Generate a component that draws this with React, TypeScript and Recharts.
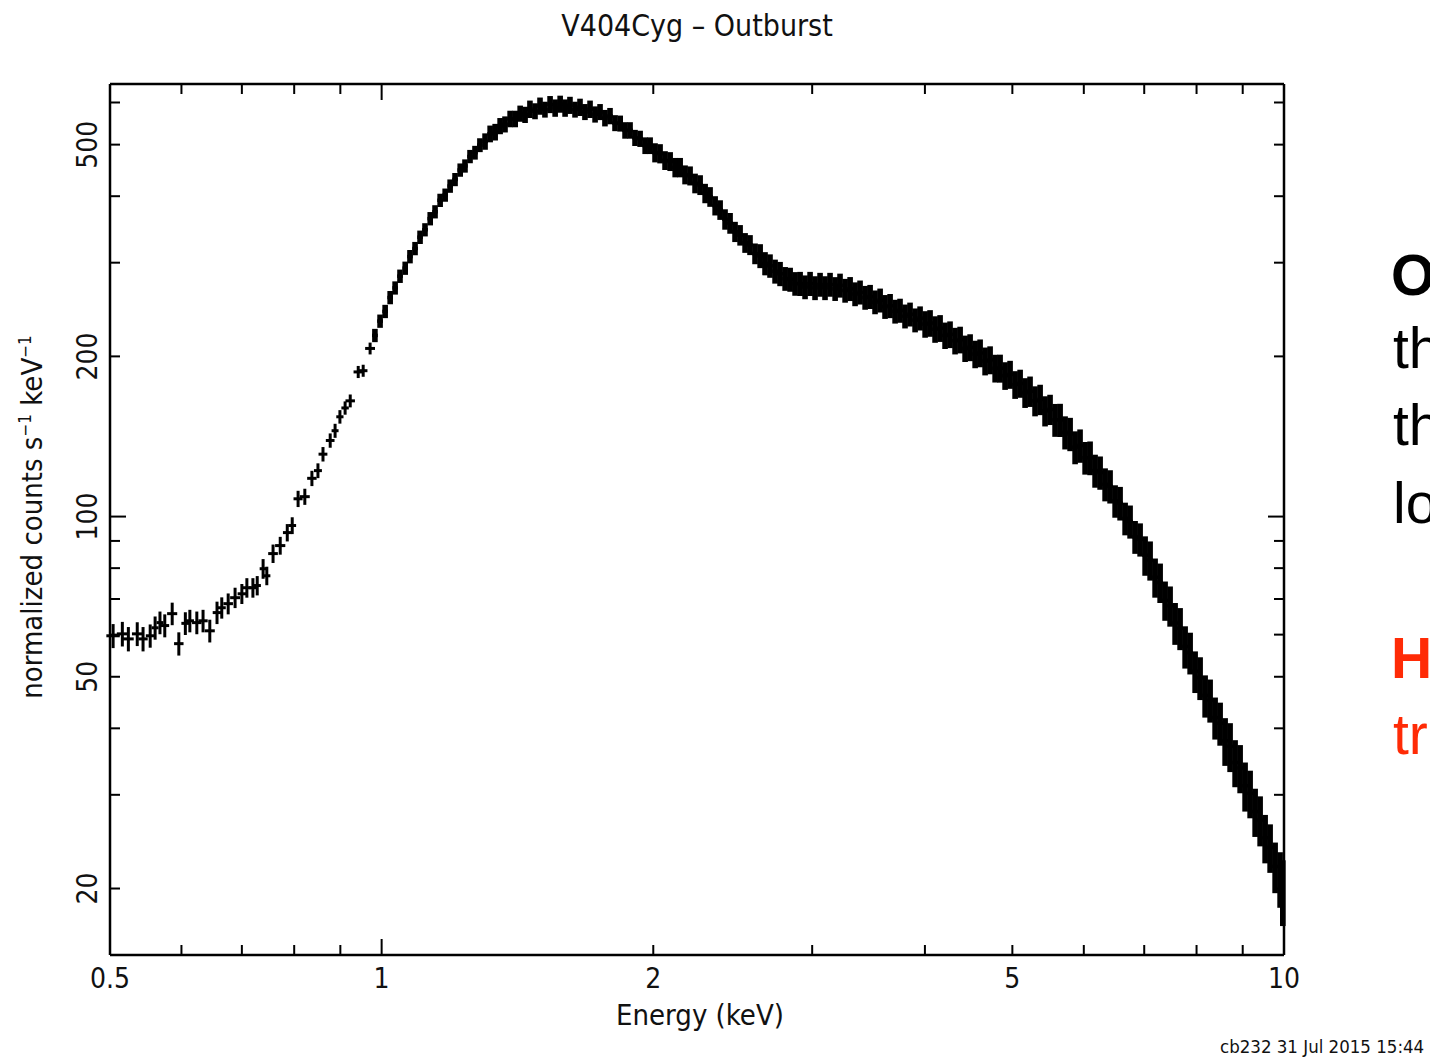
import React from 'react';
import { ScatterChart, Scatter, XAxis, YAxis, ErrorBar } from 'recharts';

// ---- data (energy in keV, normalized counts s^-1 keV^-1) ----
const lowEnergies = [
  0.504, 0.516, 0.524, 0.536, 0.544, 0.554, 0.561, 0.568, 0.575, 0.586,
  0.596, 0.606, 0.613, 0.624, 0.634, 0.645, 0.657, 0.665, 0.676, 0.688,
  0.700, 0.709, 0.720, 0.728, 0.739, 0.746, 0.758, 0.772, 0.786, 0.796,
  0.808, 0.822, 0.837, 0.850, 0.861, 0.877, 0.888, 0.899, 0.911, 0.923,
  0.942, 0.954, 0.971,
];
const lowCounts = [
  59.7, 60.2, 58.9, 60.2, 58.9, 59.7, 61.8, 63.2, 62.4, 65.7,
  57.7, 63.0, 63.7, 63.2, 63.7, 61.0, 66.0, 67.4, 68.6, 70.4,
  71.6, 73.5, 73.5, 74.2, 79.8, 77.4, 85.2, 88.2, 93.3, 96.2,
  108, 109, 118, 122, 131, 139, 145, 154, 160, 165,
  187, 188, 207,
];
const lowErrors = [
  3.1, 3.2, 3.1, 3.1, 3.1, 3.0, 3.1, 3.1, 3.1, 3.2,
  2.9, 3.1, 3.1, 3.1, 3.1, 3.0, 3.2, 3.1, 3.1, 3.1,
  3.1, 3.1, 3.1, 3.1, 3.4, 3.1, 3.4, 3.4, 3.5, 3.5,
  3.8, 3.8, 3.9, 3.9, 4.1, 4.3, 4.4, 4.5, 4.6, 4.6,
  4.9, 4.9, 5.3,
];

const bandEnergies = [
  0.983, 0.996, 1.009, 1.022, 1.035, 1.048, 1.062, 1.075, 1.089, 1.103,
  1.117, 1.132, 1.146, 1.161, 1.176, 1.191, 1.206, 1.222, 1.237, 1.253,
  1.269, 1.285, 1.302, 1.319, 1.336, 1.353, 1.370, 1.388, 1.406, 1.424,
  1.442, 1.460, 1.479, 1.498, 1.517, 1.537, 1.557, 1.577, 1.597, 1.617,
  1.638, 1.659, 1.680, 1.702, 1.724, 1.746, 1.768, 1.791, 1.814, 1.838,
  1.861, 1.885, 1.909, 1.934, 1.959, 1.984, 2.009, 2.035, 2.061, 2.088,
  2.115, 2.142, 2.169, 2.197, 2.225, 2.254, 2.283, 2.312, 2.342, 2.372,
  2.402, 2.433, 2.464, 2.496, 2.528, 2.560, 2.593, 2.627, 2.660, 2.694,
  2.729, 2.764, 2.800, 2.836, 2.872, 2.909, 2.946, 2.984, 3.022, 3.061,
  3.100, 3.140, 3.181, 3.221, 3.263, 3.305, 3.347, 3.390, 3.434, 3.478,
  3.522, 3.568, 3.613, 3.660, 3.707, 3.754, 3.802, 3.851, 3.901, 3.951,
  4.002, 4.053, 4.105, 4.158, 4.211, 4.265, 4.320, 4.376, 4.432, 4.489,
  4.547, 4.605, 4.664, 4.724, 4.785, 4.846, 4.908, 4.971, 5.035, 5.100,
  5.165, 5.231, 5.298, 5.367, 5.435, 5.505, 5.576, 5.648, 5.720, 5.794,
  5.868, 5.943, 6.020, 6.097, 6.175, 6.255, 6.335, 6.416, 6.499, 6.582,
  6.667, 6.752, 6.839, 6.927, 7.016, 7.106, 7.197, 7.290, 7.383, 7.478,
  7.574, 7.671, 7.770, 7.870, 7.971, 8.073, 8.177, 8.282, 8.388, 8.496,
  8.605, 8.715, 8.827, 8.941, 9.055, 9.172, 9.290, 9.409, 9.530, 9.652,
  9.776, 9.901, 9.970,
];
const bandCounts = [
  219, 233, 243, 258, 269, 283, 293, 308, 319, 335,
  346, 363, 374, 393, 402, 418, 430, 448, 456, 475,
  483, 499, 507, 524, 528, 542, 546, 559, 559, 572,
  569, 583, 578, 591, 582, 595, 586, 596, 586, 593,
  582, 588, 576, 583, 570, 576, 561, 566, 549, 548,
  532, 532, 515, 513, 498, 498, 483, 481, 467, 465,
  453, 453, 439, 437, 423, 420, 405, 399, 384, 377,
  362, 356, 343, 338, 327, 324, 312, 309, 299, 296,
  289, 286, 280, 279, 274, 274, 270, 274, 269, 273,
  269, 273, 268, 272, 266, 268, 262, 264, 258, 259,
  253, 255, 248, 249, 243, 244, 238, 240, 234, 236,
  230, 231, 225, 226, 219, 220, 214, 215, 207, 208,
  202, 203, 196, 197, 190, 190, 184, 185, 177, 178,
  171, 172, 165, 166, 158, 159, 152, 152, 144, 143,
  135, 136, 129, 129, 122, 121, 115, 114, 107, 106,
  99.2, 97.9, 91.6, 90.6, 84.6, 82.8, 76.9, 75.2, 69.6, 68.0,
  63.1, 61.7, 57.0, 55.5, 51.2, 49.8, 46.1, 45.2, 41.9, 40.9,
  37.9, 37.0, 34.5, 33.7, 31.2, 30.2, 27.9, 26.9, 24.9, 23.9,
  22.0, 20.9, 19.8,
];
const bandErrors = [
  6.3, 6.7, 7.0, 7.4, 7.7, 8.2, 8.4, 8.9, 9.2, 9.7,
  9.9, 10.5, 10.7, 11.3, 11.5, 12.1, 12.3, 12.9, 13.1, 13.7,
  14.4, 15, 18, 19, 19, 19, 19, 20, 20, 20,
  20, 22, 20, 22, 20, 22, 22, 22, 22, 22,
  20, 22, 20, 22, 20, 20, 20, 20, 19, 19,
  19, 19, 18, 18, 18, 18, 20, 20, 19, 19,
  19, 19, 18, 18, 18, 18, 17, 17, 16, 16,
  16, 16, 15, 15, 14, 14, 14, 16, 15, 15,
  15, 15, 14.4, 14.5, 14, 14.3, 13.9, 14.3, 13.9, 14.1,
  13.9, 14.1, 13.8, 14.1, 13.7, 13.9, 13.5, 13.7, 13.3, 13.5,
  13, 13.2, 12.8, 13, 12.5, 12.7, 12.3, 12.4, 12.1, 12.3,
  13.2, 13.3, 12.9, 13.1, 12.5, 12.7, 12.3, 12.4, 11.8, 12.1,
  12, 12.2, 11.8, 11.9, 11.4, 11.5, 11, 11.2, 10.6, 10.8,
  11, 11.3, 10.7, 10.9, 10.3, 10.4, 10.8, 10.9, 10.3, 10.3,
  9.6, 9.8, 9.1, 9.4, 8.7, 8.7, 8.2, 8.2, 7.5, 7.7,
  7, 7, 6.5, 6.5, 7.2, 7, 6.5, 6.4, 5.9, 5.9,
  5.7, 5.6, 5.2, 5, 4.6, 4.6, 4.2, 4.2, 3.8, 3.8,
  3.9, 3.9, 3.5, 3.5, 3.3, 3.1, 2.9, 2.9, 2.6, 2.5,
  2.4, 2.5, 2.8,
];

const xTicks = [0.5, 0.6, 0.7, 0.8, 0.9, 1, 2, 3, 4, 5, 6, 7, 8, 9, 10];
const xTickLabels = [0.5, 1, 2, 5, 10];
const yTicks = [20, 30, 40, 50, 60, 70, 80, 90, 100, 200, 300, 400, 500, 600];
const yTickLabels = [20, 50, 100, 200, 500];

const titleText = 'V404Cyg \u2013 Outburst';
const xAxisTitle = 'Energy (keV)';
const stampText = 'cb232 31 Jul 2015 15:44';

// ---- build the tables for the library (bin half-widths from neighbouring bins) ----
const buildRows = (es: number[], vs: number[], errs: number[], share: number) =>
  es.map((e, i) => {
    const next = es[i + 1];
    const prev = es[i - 1];
    const p = prev !== undefined ? prev : e - (next - e);
    const n = next !== undefined ? next : e + (e - prev);
    return { e, v: vs[i], ey: errs[i], ex: (n - p) * share };
  });

const lowData = buildRows(lowEnergies, lowCounts, lowErrors, 0.36);
const bandData = buildRows(bandEnergies, bandCounts, bandErrors, 0.28);
const allData = [...lowData, ...bandData];

const FONT = "'Liberation Sans Narrow', 'Arial Narrow', 'DejaVu Sans Condensed', 'Liberation Sans', sans-serif";
const SLIDE_FONT = "'Liberation Sans', Arial, Helvetica, sans-serif";
const INK = '#111';

const isDecade = (v: number) => Math.abs(Math.log10(v) - Math.round(Math.log10(v))) < 1e-6;

const BottomTick = (props: any) => {
  const { x, y, payload } = props;
  const v = payload.value;
  const len = isDecade(v) ? 16 : 10;
  return (
    <g>
      <line x1={x} y1={y} x2={x} y2={y - len} stroke="#000" strokeWidth={2} />
      {xTickLabels.includes(v) && (
        <text x={x} y={y + 33} textAnchor="middle" fontSize={28} fontFamily={FONT} fill={INK}>
          {String(v)}
        </text>
      )}
    </g>
  );
};

const TopTick = (props: any) => {
  const { x, y, payload } = props;
  const len = isDecade(payload.value) ? 16 : 10;
  return <line x1={x} y1={y} x2={x} y2={y + len} stroke="#000" strokeWidth={2} />;
};

const LeftTick = (props: any) => {
  const { x, y, payload } = props;
  const v = payload.value;
  const len = isDecade(v) ? 16 : 10;
  const tx = x - 13;
  return (
    <g>
      <line x1={x} y1={y} x2={x + len} y2={y} stroke="#000" strokeWidth={2} />
      {yTickLabels.includes(v) && (
        <text
          x={tx}
          y={y}
          transform={`rotate(-90 ${tx} ${y})`}
          textAnchor="middle"
          fontSize={28}
          fontFamily={FONT}
          fill={INK}
        >
          {String(v)}
        </text>
      )}
    </g>
  );
};

const RightTick = (props: any) => {
  const { x, y, payload } = props;
  const len = isDecade(payload.value) ? 16 : 10;
  return <line x1={x} y1={y} x2={x - len} y2={y} stroke="#000" strokeWidth={2} />;
};

const NoMarker = () => <g />;

const axisLine = { stroke: '#000', strokeWidth: 2.5 };

export default function App() {
  return (
    <div style={{ position: 'absolute', left: 0, top: 0, width: 1430, height: 1057, background: '#fff' }}>
      <ScatterChart
        width={1430}
        height={1057}
        margin={{ top: 83, right: 145, bottom: 101, left: 109 }}
      >
        <XAxis
          xAxisId="bottom"
          dataKey="e"
          type="number"
          scale="log"
          domain={[0.5, 10]}
          allowDataOverflow
          ticks={xTicks}
          interval={0}
          height={1}
          tickSize={0}
          tickMargin={0}
          tickLine={false}
          axisLine={axisLine}
          tick={BottomTick}
        />
        <XAxis
          xAxisId="top"
          orientation="top"
          dataKey="e"
          type="number"
          scale="log"
          domain={[0.5, 10]}
          allowDataOverflow
          ticks={xTicks}
          interval={0}
          height={1}
          tickSize={0}
          tickMargin={0}
          tickLine={false}
          axisLine={axisLine}
          tick={TopTick}
        />
        <YAxis
          yAxisId="left"
          dataKey="v"
          type="number"
          scale="log"
          domain={[15, 650]}
          allowDataOverflow
          ticks={yTicks}
          interval={0}
          width={1}
          tickSize={0}
          tickMargin={0}
          tickLine={false}
          axisLine={axisLine}
          tick={LeftTick}
        />
        <YAxis
          yAxisId="right"
          orientation="right"
          dataKey="v"
          type="number"
          scale="log"
          domain={[15, 650]}
          allowDataOverflow
          ticks={yTicks}
          interval={0}
          width={1}
          tickSize={0}
          tickMargin={0}
          tickLine={false}
          axisLine={axisLine}
          tick={RightTick}
        />
        <Scatter
          data={allData}
          xAxisId="top"
          yAxisId="right"
          dataKey="v"
          shape={NoMarker}
          isAnimationActive={false}
        />
        <Scatter
          data={lowData}
          xAxisId="bottom"
          yAxisId="left"
          dataKey="v"
          shape={NoMarker}
          isAnimationActive={false}
        >
          <ErrorBar dataKey="ey" direction="y" width={0} stroke="#000" strokeWidth={3} isAnimationActive={false} />
          <ErrorBar dataKey="ex" direction="x" width={0} stroke="#000" strokeWidth={3} isAnimationActive={false} />
        </Scatter>
        <Scatter
          data={bandData}
          xAxisId="bottom"
          yAxisId="left"
          dataKey="v"
          shape={NoMarker}
          isAnimationActive={false}
        >
          <ErrorBar dataKey="ey" direction="y" width={0} stroke="#000" strokeWidth={5.6} isAnimationActive={false} />
          <ErrorBar dataKey="ex" direction="x" width={0} stroke="#000" strokeWidth={3.5} isAnimationActive={false} />
        </Scatter>
      </ScatterChart>

      <svg
        width={1430}
        height={1057}
        style={{ position: 'absolute', left: 0, top: 0, pointerEvents: 'none' }}
      >
        <text x={697} y={36} textAnchor="middle" fontSize={30} fontFamily={FONT} fill={INK}>
          {titleText}
        </text>
        <text x={700} y={1025} textAnchor="middle" fontSize={29} fontFamily={FONT} fill={INK}>
          {xAxisTitle}
        </text>
        <text
          x={42}
          y={517}
          transform="rotate(-90 42 517)"
          textAnchor="middle"
          fontSize={29}
          fontFamily={FONT}
          fill={INK}
        >
          normalized counts s
          <tspan dy={-11} fontSize={17}>{'\u22121'}</tspan>
          <tspan dy={11}> keV</tspan>
          <tspan dy={-11} fontSize={17}>{'\u22121'}</tspan>
        </text>
        <text x={1220} y={1053} fontSize={18.5} fontFamily={FONT} fill={INK}>
          {stampText}
        </text>

        <text x={1391} y={295} fontSize={57} fontWeight="bold" fontFamily={SLIDE_FONT} fill="#000">O</text>
        <text x={1393} y={368} fontSize={57} fontFamily={SLIDE_FONT} fill="#000">th</text>
        <text x={1393} y={445} fontSize={57} fontFamily={SLIDE_FONT} fill="#000">th</text>
        <text x={1393} y={523} fontSize={57} fontFamily={SLIDE_FONT} fill="#000">lo</text>
        <text x={1391} y={678} fontSize={57} fontWeight="bold" fontFamily={SLIDE_FONT} fill="#ff2b06">H</text>
        <text x={1393} y={754} fontSize={57} fontFamily={SLIDE_FONT} fill="#ff2b06">tr</text>
      </svg>
    </div>
  );
}
